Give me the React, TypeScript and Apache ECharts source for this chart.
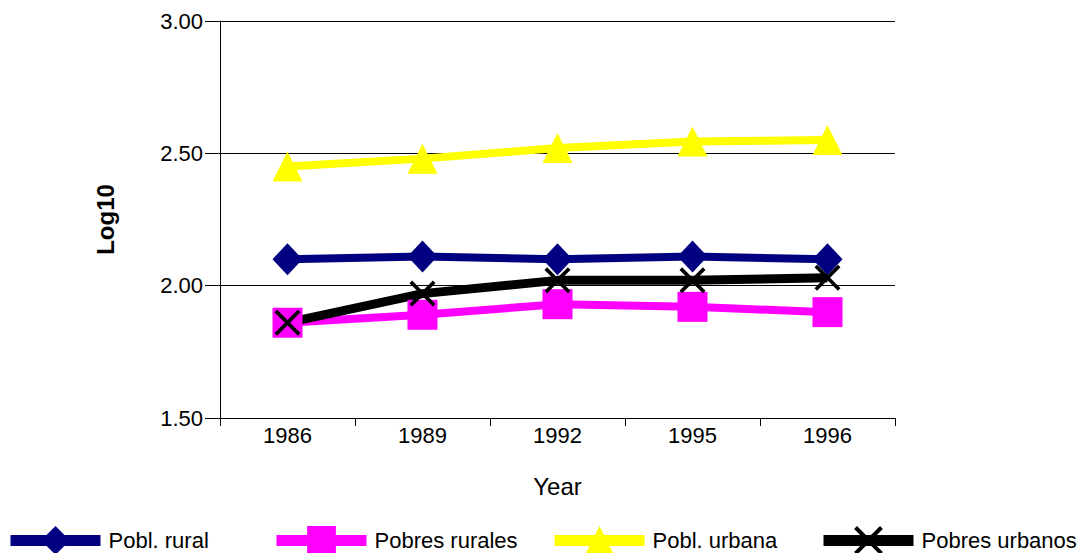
import React, { useEffect, useRef } from "react";
import * as echarts from "echarts";

const years = ["1986", "1989", "1992", "1995", "1996"];
const poblRural = [2.10, 2.11, 2.10, 2.11, 2.10];
const pobresRurales = [1.86, 1.89, 1.93, 1.92, 1.90];
const poblUrbana = [2.45, 2.48, 2.52, 2.545, 2.55];
const pobresUrbanos = [1.86, 1.97, 2.02, 2.02, 2.03];

const seriesNames = ["Pobl. rural", "Pobres rurales", "Pobl. urbana", "Pobres urbanos"];

const FONT = "Liberation Sans, Arial, sans-serif";
const X_PATH = "path://M2 0 L10 8 L18 0 L20 2 L12 10 L20 18 L18 20 L10 12 L2 20 L0 18 L8 10 L0 2 Z";

export default function App() {
  const ref = useRef<HTMLDivElement>(null);
  useEffect(() => {
    if (!ref.current) return;
    const chart = echarts.init(ref.current, null, { renderer: "svg" });
    const legendLefts = [5, 271, 549, 818];
    chart.setOption({
      animation: false,
      backgroundColor: "#ffffff",
      textStyle: { fontFamily: FONT },
      grid: { left: 220, right: 188, top: 21, bottom: 135 },
      legend: seriesNames.map((n, i) => ({
        data: [n],
        left: legendLefts[i],
        top: 526,
        padding: 0,
        itemWidth: 90,
        itemHeight: 36,
        itemGap: 10,
        lineStyle: { width: 11 },
        textStyle: { fontSize: 22, color: "#000", fontFamily: FONT, padding: [0, 0, 0, 3] },
        selectedMode: false,
      })),
      xAxis: {
        type: "category",
        data: years,
        boundaryGap: true,
        axisLine: { show: true, lineStyle: { color: "#000", width: 1 } },
        axisTick: { show: true, length: 8, lineStyle: { color: "#000" } },
        axisLabel: { fontSize: 22, color: "#000", margin: 6, fontFamily: FONT },
        name: "Year",
        nameLocation: "middle",
        nameGap: 56,
        nameTextStyle: { fontSize: 24, color: "#000", fontFamily: FONT },
      },
      yAxis: {
        type: "value",
        min: 1.5,
        max: 3,
        interval: 0.5,
        axisLine: { show: true, lineStyle: { color: "#000", width: 1 } },
        axisTick: { show: true, length: 15, lineStyle: { color: "#000" } },
        axisLabel: {
          fontSize: 22,
          color: "#000",
          margin: 17,
          fontFamily: FONT,
          formatter: (v: number) => v.toFixed(2),
        },
        splitLine: { show: true, lineStyle: { color: "#000", width: 1 } },
        name: "Log10",
        nameLocation: "middle",
        nameGap: 103,
        nameRotate: 90,
        nameTextStyle: { fontSize: 24, fontWeight: "bold", color: "#000", fontFamily: FONT },
      },
      series: [
        {
          name: seriesNames[0],
          type: "line",
          data: poblRural,
          symbol: "diamond",
          symbolSize: [30, 32],
          lineStyle: { color: "#000080", width: 8 },
          itemStyle: { color: "#000080" },
        },
        {
          name: seriesNames[1],
          type: "line",
          data: pobresRurales,
          symbol: "rect",
          symbolSize: 30,
          lineStyle: { color: "#FF00FF", width: 8 },
          itemStyle: { color: "#FF00FF" },
        },
        {
          name: seriesNames[2],
          type: "line",
          data: poblUrbana,
          symbol: "triangle",
          symbolSize: [30, 30],
          lineStyle: { color: "#FFFF00", width: 8 },
          itemStyle: { color: "#FFFF00" },
        },
        {
          name: seriesNames[3],
          type: "line",
          data: pobresUrbanos,
          symbol: X_PATH,
          symbolSize: 26,
          lineStyle: { color: "#000000", width: 9 },
          itemStyle: { color: "#000000" },
        },
      ],
    });
    return () => chart.dispose();
  }, []);
  return <div ref={ref} style={{ width: 1083, height: 553, position: "absolute", left: 0, top: 0 }} />;
}
